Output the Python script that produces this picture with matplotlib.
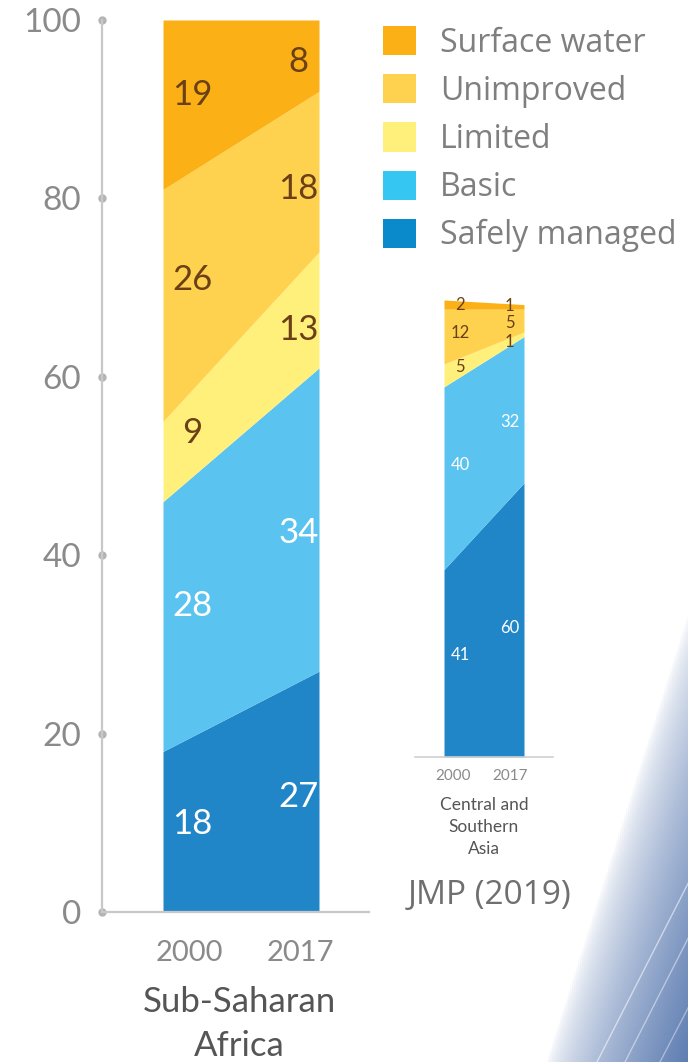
import numpy as np
import matplotlib.pyplot as plt
from matplotlib.patches import Patch

# categories, bottom to top
categories = ['Safely managed', 'Basic', 'Limited', 'Unimproved', 'Surface water']
colors = ['#2186C8', '#5BC3EF', '#FFF07B', '#FED24F', '#FBB116']
legend_colors = ['#0A8ACB', '#35C7F2', '#FFF07B', '#FED24F', '#FBB116']
label_colors = ['white', 'white', '#6B4016', '#6B4016', '#6B4016']
years = ['2000', '2017']

# Sub-Saharan Africa (% of population)
ssa_2000 = [18, 28, 9, 26, 19]
ssa_2017 = [27, 34, 13, 18, 8]

# Central and Southern Asia
csa_2000 = [41, 40, 5, 12, 2]
csa_2017 = [60, 32, 1, 5, 1]

W, H = 688, 1062
fig = plt.figure(figsize=(W / 100, H / 100), dpi=100)

# decorative blue streak in the bottom right corner
bg = fig.add_axes([0, 0, 1, 1], zorder=-10)
px, py = np.meshgrid(np.arange(0, W, 2), np.arange(0, H, 2))
s = (px - 545) / 143 + (py - 610) / 452 - 1
a = np.clip(s, 0, 1) ** 0.65
img = np.zeros(px.shape + (4,))
img[..., 0] = 0.33
img[..., 1] = 0.46
img[..., 2] = 0.68
img[..., 3] = a * 0.95
bg.imshow(img, extent=[0, W, H, 0], aspect='auto')
for x0, x1, y1, al in [(597, 700, 860, 0.55), (625, 700, 915, 0.45), (660, 700, 985, 0.4)]:
    bg.plot([x0, x1], [H, y1], color='white', lw=1.0, alpha=al)
bg.set_xlim(0, W)
bg.set_ylim(H, 0)
bg.axis('off')


def draw_stack(ax, v0, v1, lab_x, fs):
    c0 = np.concatenate([[0], np.cumsum(v0)])
    c1 = np.concatenate([[0], np.cumsum(v1)])
    for i in range(len(categories)):
        ax.fill_between([0, 1], [c0[i], c1[i]], [c0[i + 1], c1[i + 1]],
                        color=colors[i], lw=0)
        for t, vals in zip(lab_x, (v0, v1)):
            lo = c0[i] + t * (c1[i] - c0[i])
            hi = c0[i + 1] + t * (c1[i + 1] - c0[i + 1])
            ax.text(t, (lo + hi) / 2, str(vals[i]), ha='center', va='center',
                    fontsize=fs, color=label_colors[i], family='Lato')


# main panel: Sub-Saharan Africa
ax = fig.add_axes([102 / W, 1 - 912 / H, 267 / W, 892 / H])
draw_stack(ax, ssa_2000, ssa_2017, (0.19, 0.87), 25)
ax.set_xlim(-61 / 156, 1 + 50 / 156)
ax.set_ylim(0, 100)
for sp in ['top', 'right']:
    ax.spines[sp].set_visible(False)
for sp in ['left', 'bottom']:
    ax.spines[sp].set_color('#c8c8c8')
    ax.spines[sp].set_linewidth(1.6)
yt = [0, 20, 40, 60, 80, 100]
ax.set_yticks(yt)
ax.set_yticklabels([str(v) for v in yt], fontsize=24, color='#8a8a8a', family='Lato')
ax.tick_params(axis='y', length=0, pad=15)
ax.plot([0] * len(yt), yt, 'o', color='#b4b4b4', ms=5,
        transform=ax.get_yaxis_transform(), clip_on=False)
ax.set_xticks([0.17, 0.88])
ax.set_xticklabels(years, fontsize=21, color='#8a8a8a', family='Lato')
ax.tick_params(axis='x', length=0, pad=20)
ax.set_xlabel('Sub-Saharan\nAfrica', fontsize=25, color='#555555', family='Lato',
              linespacing=1.45)
ax.xaxis.set_label_coords(0.515, -0.083)
ax.xaxis.label.set_va('top')

# inset panel: Central and Southern Asia
ax2 = fig.add_axes([415 / W, 1 - 757 / H, 138 / W, 457 / H])
draw_stack(ax2, csa_2000, csa_2017, (0.2, 0.82), 12)
ax2.set_xlim(-29 / 80, 1 + 29 / 80)
ax2.set_ylim(0, 100)
for sp in ['top', 'right', 'left']:
    ax2.spines[sp].set_visible(False)
ax2.spines['bottom'].set_color('#d0d0d0')
ax2.spines['bottom'].set_linewidth(1.2)
ax2.set_yticks([])
ax2.set_xticks([0.11, 0.82])
ax2.set_xticklabels(years, fontsize=11, color='#8a8a8a', family='Lato')
ax2.tick_params(axis='x', length=0, pad=9)
ax2.set_xlabel('Central and\nSouthern\nAsia', fontsize=12.5, color='#555555',
               family='Lato', linespacing=1.45)
ax2.xaxis.set_label_coords(0.5, -0.088)
ax2.xaxis.label.set_va('top')

# legend
handles = [Patch(facecolor=legend_colors[i], edgecolor='none', label=categories[i])
           for i in range(len(categories) - 1, -1, -1)]
fig.legend(handles=handles, loc='upper left', bbox_to_anchor=(383 / W, 1 - 26 / H),
           frameon=False, prop={'family': 'Open Sans', 'size': 23},
           labelcolor='#7f7f7f', handlelength=1.03, handleheight=1.03,
           handletextpad=0.75, labelspacing=0.46, borderaxespad=0, borderpad=0)

fig.text(408 / W, 1 - 895 / H, 'JMP (2019)', fontsize=24, color='#6f6f6f',
         family='Open Sans', ha='left', va='center')

plt.savefig('out.png', dpi=100)
